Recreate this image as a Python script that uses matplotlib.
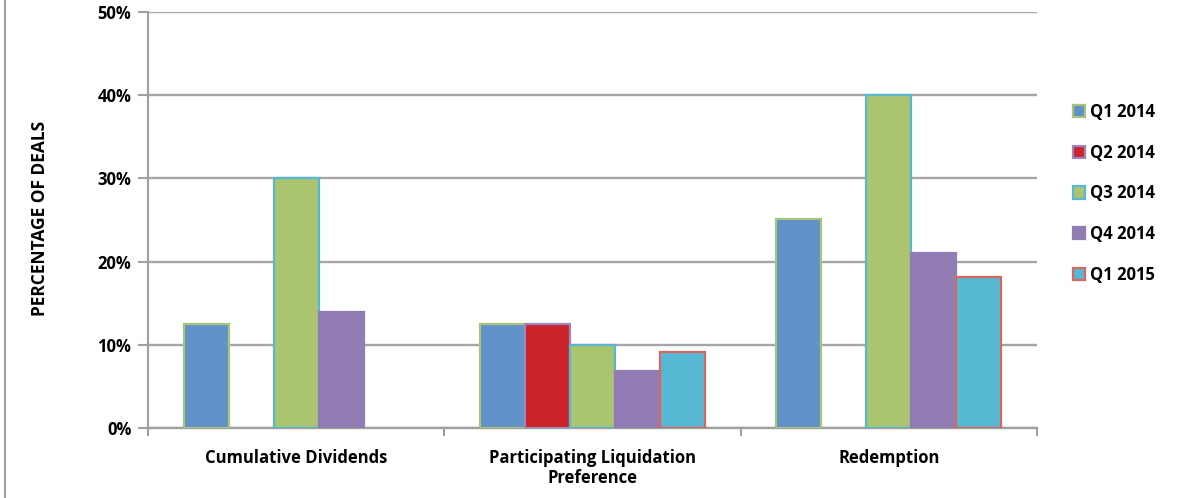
import matplotlib
matplotlib.use("Agg")
import matplotlib.pyplot as plt
import numpy as np
from matplotlib.patches import Patch
from matplotlib.lines import Line2D
from matplotlib.ticker import FuncFormatter

categories = ["Cumulative Dividends", "Participating Liquidation\nPreference", "Redemption"]
series = ["Q1 2014", "Q2 2014", "Q3 2014", "Q4 2014", "Q1 2015"]
q1_2014 = [12.5, 12.5, 25.1]
q2_2014 = [0.0, 12.5, 0.0]
q3_2014 = [30.0, 10.0, 40.0]
q4_2014 = [14.0, 6.9, 21.0]
q1_2015 = [0.0, 9.1, 18.1]
values = [q1_2014, q2_2014, q3_2014, q4_2014, q1_2015]

fills = ["#5F93C8", "#CC2229", "#ABC46F", "#917CB3", "#56B8D2"]
edges = ["#A9C47A", "#9D86BC", "#58B8D4", "#917CB3", "#D9675F"]

plt.rcParams["font.family"] = ["Open Sans", "DejaVu Sans"]
plt.rcParams["font.weight"] = "bold"
FS = 12

fig = plt.figure(figsize=(11.8, 4.98), dpi=100)
ax = fig.add_axes([148 / 1180, 1 - 428 / 498, (1037 - 148) / 1180, (428 - 12) / 498])

x = np.arange(len(categories))
width = 0.152
for i, (vals, fc, ec) in enumerate(zip(values, fills, edges)):
    pos = x + (i - 2) * width
    for p, v in zip(pos, vals):
        if v > 0:
            ax.bar(p, v, width=width, color=fc, edgecolor=ec, linewidth=1.6, zorder=3)

ax.set_xlim(-0.5, 2.5)
ax.set_ylim(0, 50)
ax.set_yticks(np.arange(0, 51, 10))
ax.yaxis.set_major_formatter(FuncFormatter(lambda v, _: f"{int(v)}%"))
ax.set_xticks(x)
ax.set_xticklabels(categories, fontsize=FS, fontweight="bold", linespacing=1.15)
ax.set_xticks([-0.5, 0.5, 1.5, 2.5], minor=True)
ax.tick_params(axis="x", which="major", length=0, pad=15)
ax.tick_params(axis="x", which="minor", length=6, width=1.5, color="#A0A0A0", direction="out")
ax.tick_params(axis="y", length=7, width=1.5, color="#A0A0A0", labelsize=FS, pad=5)
for lbl in ax.get_yticklabels():
    lbl.set_fontweight("bold")

ax.grid(axis="y", color="#A6A6A6", linewidth=1.7, zorder=0)
for s in ["top", "right"]:
    ax.spines[s].set_visible(False)
ax.spines["left"].set_color("#A0A0A0")
ax.spines["left"].set_linewidth(1.5)
ax.spines["bottom"].set_color("#A0A0A0")
ax.spines["bottom"].set_linewidth(1.7)

fig.text(40 / 1180, 1 - 218 / 498, "PERCENTAGE OF DEALS", rotation=90,
         ha="center", va="center", fontsize=12.5, fontweight="bold")

handles = [Patch(facecolor=fc, edgecolor=ec, linewidth=1.6) for fc, ec in zip(fills, edges)]
leg = fig.legend(handles, series, loc="upper left", bbox_to_anchor=(1066 / 1180, 1 - 96 / 498),
                 frameon=False, fontsize=FS, handlelength=0.75, handleheight=0.75,
                 handletextpad=0.3, labelspacing=1.37, borderaxespad=0)
for t in leg.get_texts():
    t.set_fontweight("bold")

fig.add_artist(Line2D([5 / 1180, 5 / 1180], [0, 1], color="#A0A0A0", linewidth=1.5))

fig.savefig("out.png", dpi=100)
